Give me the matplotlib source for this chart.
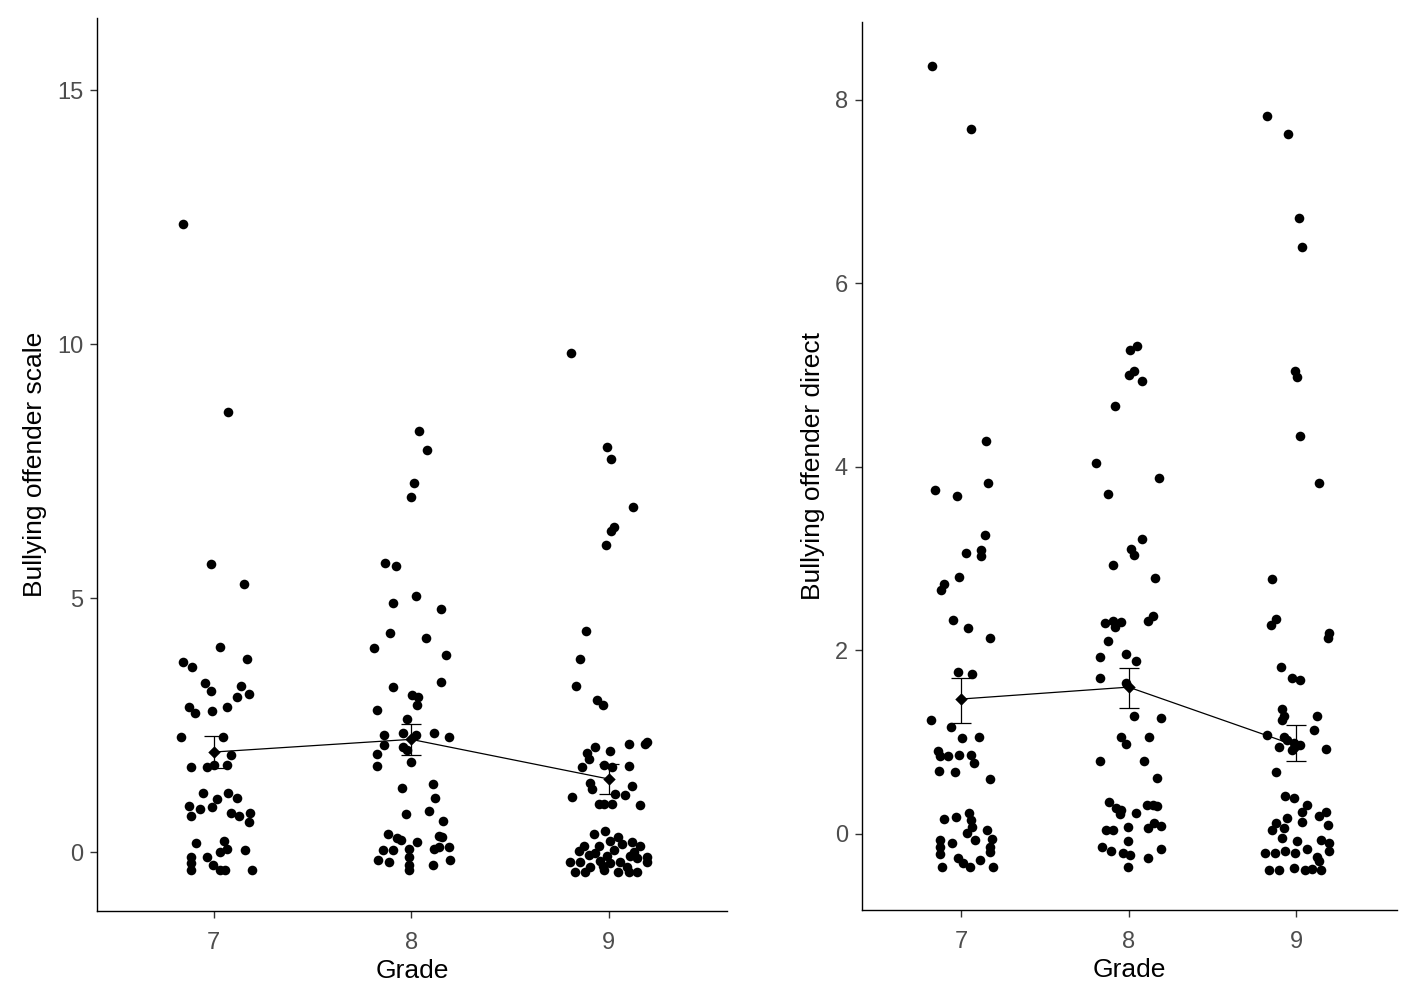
import numpy as np
import matplotlib
matplotlib.use("Agg")
import matplotlib.pyplot as plt

plt.rcParams['font.family'] = ['Liberation Sans', 'DejaVu Sans']

grades = [7, 8, 9]
grade_labels = ["7", "8", "9"]

# jittered points: (horizontal jitter, value)
scale_g7 = [(-0.156, 12.36), (0.071, 8.66), (-0.014, 5.67), (0.155, 5.27), (0.035, 4.04), (-0.153, 3.75),
            (-0.107, 3.65), (0.170, 3.81), (-0.044, 3.32), (-0.015, 3.18), (0.141, 3.27), (0.121, 3.06),
            (0.180, 3.12), (-0.127, 2.86), (-0.094, 2.73), (-0.007, 2.78), (0.069, 2.85), (-0.166, 2.26),
            (0.050, 2.26), (0.086, 1.92), (-0.116, 1.67), (-0.035, 1.67), (0.0, 1.72), (0.069, 1.72),
            (-0.052, 1.17), (0.019, 1.04), (0.074, 1.17), (0.121, 1.07), (-0.124, 0.91), (-0.069, 0.84),
            (-0.007, 0.88), (-0.114, 0.71), (0.086, 0.77), (0.129, 0.71), (0.183, 0.77), (0.178, 0.59),
            (-0.091, 0.18), (0.052, 0.22), (0.035, 0.01), (0.069, 0.07), (0.161, 0.04), (-0.114, -0.10),
            (-0.035, -0.10), (-0.114, -0.22), (-0.002, -0.26), (-0.114, -0.35), (0.032, -0.35),
            (0.057, -0.35), (0.195, -0.35)]
scale_g8 = [(0.040, 8.29), (0.082, 7.91), (0.015, 7.26), (-0.002, 6.99), (-0.131, 5.70), (-0.077, 5.64),
            (-0.094, 4.91), (0.024, 5.04), (0.150, 4.78), (-0.106, 4.31), (0.074, 4.21), (-0.190, 4.01),
            (0.176, 3.88), (0.150, 3.35), (-0.089, 3.25), (0.004, 3.09), (0.034, 3.06), (0.032, 2.89),
            (-0.173, 2.80), (-0.019, 2.63), (-0.136, 2.30), (-0.136, 2.11), (-0.039, 2.34), (0.025, 2.30),
            (0.116, 2.34), (0.191, 2.26), (-0.039, 2.07), (-0.019, 2.01), (-0.002, 1.78), (-0.173, 1.93),
            (-0.173, 1.70), (-0.047, 1.27), (0.109, 1.34), (0.121, 1.07), (-0.027, 0.76), (0.091, 0.81),
            (0.160, 0.61), (-0.119, 0.35), (-0.072, 0.28), (-0.052, 0.24), (0.032, 0.20), (0.143, 0.31),
            (0.155, 0.30), (0.19, 0.10), (-0.140, 0.04), (-0.092, 0.04), (-0.010, 0.07), (0.116, 0.07),
            (0.143, 0.10), (-0.165, -0.16), (-0.114, -0.19), (-0.010, -0.09), (-0.010, -0.26),
            (0.195, -0.16), (0.109, -0.26), (-0.010, -0.35)]
scale_g9 = [(-0.19, 9.82), (-0.01, 7.97), (0.01, 7.74), (0.126, 6.80), (0.025, 6.40), (0.01, 6.32),
            (-0.015, 6.04), (-0.116, 4.35), (-0.146, 3.80), (-0.166, 3.27), (-0.060, 2.99), (-0.030, 2.89),
            (-0.067, 2.07), (-0.109, 1.96), (-0.101, 1.83), (0.008, 1.99), (0.101, 2.13), (0.186, 2.13),
            (0.195, 2.16), (-0.134, 1.67), (-0.025, 1.71), (0.017, 1.67), (0.101, 1.70), (-0.092, 1.37),
            (-0.084, 1.24), (0.117, 1.30), (-0.185, 1.09), (0.034, 1.14), (0.084, 1.12), (-0.050, 0.94),
            (-0.025, 0.94), (0.017, 0.94), (0.160, 0.93), (-0.017, 0.42), (-0.076, 0.35), (0.050, 0.30),
            (0.008, 0.22), (0.117, 0.19), (-0.126, 0.12), (-0.050, 0.12), (0.160, 0.12), (-0.151, 0.03),
            (-0.067, -0.01), (-0.008, -0.07), (0.109, -0.07), (0.195, -0.10), (0.143, -0.12),
            (-0.193, -0.19), (-0.143, -0.19), (-0.042, -0.17), (0.008, -0.22), (0.059, -0.20),
            (0.195, -0.20), (-0.168, -0.39), (-0.118, -0.39), (-0.025, -0.35), (0.050, -0.39),
            (0.101, -0.39), (0.143, -0.39), (0.092, -0.29), (-0.092, -0.29), (-0.10, -0.05), (0.03, 0.05),
            (0.13, 0.0), (0.07, 0.15), (-0.03, -0.27)]

direct_g7 = [(-0.174, 8.37), (0.06, 7.68), (0.152, 4.28), (-0.157, 3.75), (-0.026, 3.68), (0.162, 3.82),
             (0.142, 3.26), (0.030, 3.06), (0.118, 3.09), (0.118, 3.03), (-0.012, 2.80), (-0.098, 2.72),
             (-0.116, 2.66), (-0.048, 2.33), (0.042, 2.24), (0.172, 2.13), (-0.016, 1.76), (0.068, 1.74),
             (-0.178, 1.24), (-0.058, 1.17), (0.008, 1.04), (0.108, 1.06), (-0.138, 0.90), (-0.122, 0.85),
             (-0.078, 0.85), (-0.012, 0.86), (0.062, 0.86), (0.078, 0.77), (-0.128, 0.69), (-0.036, 0.68),
             (0.172, 0.60), (-0.102, 0.16), (-0.028, 0.18), (0.048, 0.23), (0.058, 0.15), (0.064, 0.08),
             (0.038, 0.01), (0.158, 0.04), (-0.122, -0.07), (-0.052, -0.10), (0.084, -0.07), (0.188, -0.06),
             (-0.122, -0.14), (0.172, -0.14), (-0.122, -0.22), (0.172, -0.20), (-0.016, -0.26),
             (0.012, -0.32), (0.052, -0.36), (0.112, -0.28), (-0.112, -0.36), (0.19, -0.36)]
direct_g8 = [(0.050, 5.32), (0.010, 5.28), (0.030, 5.05), (0.0, 5.00), (0.082, 4.94), (-0.082, 4.66),
             (-0.193, 4.04), (0.178, 3.88), (-0.126, 3.70), (0.082, 3.22), (0.014, 3.11), (0.030, 3.04),
             (-0.094, 2.93), (0.158, 2.79), (-0.140, 2.30), (-0.094, 2.32), (-0.084, 2.26), (-0.044, 2.31),
             (0.116, 2.32), (0.146, 2.37), (-0.124, 2.10), (-0.170, 1.93), (-0.018, 1.96), (0.042, 1.88),
             (-0.170, 1.70), (-0.018, 1.64), (0.030, 1.28), (0.195, 1.26), (-0.044, 1.06), (-0.018, 0.98),
             (0.122, 1.06), (-0.170, 0.79), (0.092, 0.79), (0.170, 0.61), (-0.118, 0.35), (-0.074, 0.28),
             (-0.044, 0.26), (-0.054, 0.22), (0.042, 0.23), (0.112, 0.32), (0.146, 0.32), (0.170, 0.30),
             (-0.134, 0.04), (-0.094, 0.04), (-0.004, 0.07), (0.116, 0.06), (0.150, 0.12), (0.195, 0.09),
             (-0.004, -0.08), (-0.158, -0.14), (-0.104, -0.19), (-0.034, -0.21), (0.006, -0.23),
             (0.195, -0.16), (0.116, -0.26), (-0.004, -0.36)]
direct_g9 = [(-0.174, 7.83), (-0.048, 7.63), (0.018, 6.71), (0.036, 6.40), (-0.006, 5.05), (0.006, 4.98),
             (0.024, 4.34), (0.132, 3.83), (-0.144, 2.78), (-0.12, 2.34), (-0.15, 2.28), (0.197, 2.19),
             (0.19, 2.14), (-0.090, 1.82), (-0.026, 1.70), (0.024, 1.68), (-0.086, 1.36), (-0.076, 1.29),
             (-0.086, 1.24), (0.120, 1.28), (0.108, 1.13), (-0.175, 1.08), (-0.076, 1.06), (-0.056, 1.02),
             (-0.016, 0.99), (0.024, 0.97), (-0.026, 0.92), (-0.106, 0.95), (0.174, 0.93), (-0.120, 0.68),
             (-0.066, 0.41), (-0.016, 0.39), (0.064, 0.32), (0.034, 0.24), (0.174, 0.24), (-0.056, 0.17),
             (0.034, 0.13), (0.134, 0.19), (0.188, 0.10), (-0.122, 0.12), (-0.146, 0.04), (-0.076, 0.06),
             (0.144, -0.07), (0.004, -0.08), (0.195, -0.10), (-0.086, -0.05), (-0.186, -0.21),
             (-0.126, -0.21), (-0.066, -0.19), (-0.006, -0.21), (0.064, -0.17), (0.124, -0.25),
             (0.195, -0.19), (0.134, -0.30), (-0.166, -0.39), (-0.106, -0.39), (-0.016, -0.37),
             (0.054, -0.39), (0.094, -0.38), (0.144, -0.39)]

# group means with error bars
scale_mean = [1.97, 2.22, 1.44]
scale_lo = [1.66, 1.92, 1.14]
scale_hi = [2.28, 2.53, 1.74]
direct_mean = [1.47, 1.60, 0.96]
direct_lo = [1.21, 1.37, 0.79]
direct_hi = [1.70, 1.81, 1.19]


def panel(ax, groups, means, lo, hi, ylabel, yticks, ylim):
    for g, pts in zip(grades, groups):
        pts = np.array(pts)
        ax.scatter(g + pts[:, 0], pts[:, 1], s=48, color='black', linewidths=0, zorder=2)
    means = np.array(means)
    ax.plot(grades, means, color='black', lw=0.9, zorder=3)
    ax.errorbar(grades, means, yerr=[means - np.array(lo), np.array(hi) - means],
                fmt='none', ecolor='black', elinewidth=0.9, capsize=7, capthick=0.9, zorder=3)
    ax.scatter(grades, means, s=40, color='black', marker='D', linewidths=0, zorder=4)
    ax.set_xlim(6.41, 9.6)
    ax.set_ylim(*ylim)
    ax.set_xticks(grades)
    ax.set_xticklabels(grade_labels)
    ax.set_yticks(yticks)
    for s in ['top', 'right']:
        ax.spines[s].set_visible(False)
    for s in ['left', 'bottom']:
        ax.spines[s].set_linewidth(1.0)
    ax.tick_params(direction='out', length=5, width=1.0, color='#333333',
                   labelcolor='#4d4d4d', labelsize=17, pad=5)
    ax.tick_params(axis='x', pad=10)
    ax.set_xlabel('Grade', fontsize=19, labelpad=4)
    ax.set_ylabel(ylabel, fontsize=19, labelpad=7)


fig = plt.figure(figsize=(14.17, 9.96), dpi=100)
ax1 = fig.add_axes([0.0685, 0.0853, 0.4446, 0.8966])
ax2 = fig.add_axes([0.6083, 0.0863, 0.3776, 0.8916])

panel(ax1, [scale_g7, scale_g8, scale_g9], scale_mean, scale_lo, scale_hi,
      'Bullying offender scale', [0, 5, 10, 15], (-1.16, 16.42))
panel(ax2, [direct_g7, direct_g8, direct_g9], direct_mean, direct_lo, direct_hi,
      'Bullying offender direct', [0, 2, 4, 6, 8], (-0.83, 8.85))

fig.savefig('out.png', dpi=100)
